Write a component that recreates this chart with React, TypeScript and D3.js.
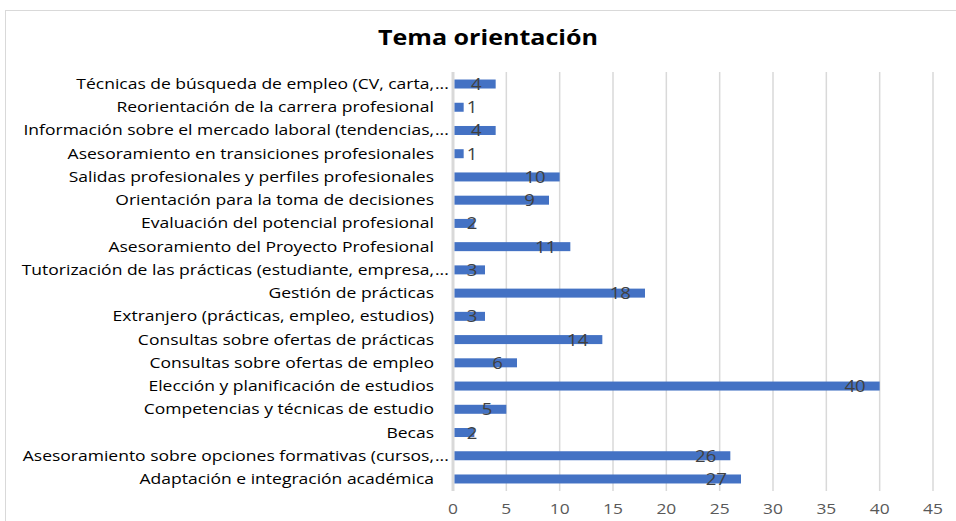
import React from "react";
import * as d3 from "d3";

const categories = [
  "Técnicas de búsqueda de empleo (CV, carta,…",
  "Reorientación de la carrera profesional",
  "Información sobre el mercado laboral (tendencias,…",
  "Asesoramiento en transiciones profesionales",
  "Salidas profesionales y perfiles profesionales",
  "Orientación para la toma de decisiones",
  "Evaluación del potencial profesional",
  "Asesoramiento del Proyecto Profesional",
  "Tutorización de las prácticas (estudiante, empresa,…",
  "Gestión de prácticas",
  "Extranjero (prácticas, empleo, estudios)",
  "Consultas sobre ofertas de prácticas",
  "Consultas sobre ofertas de empleo",
  "Elección y planificación de estudios",
  "Competencias y técnicas de estudio",
  "Becas",
  "Asesoramiento sobre opciones formativas (cursos,…",
  "Adaptación e integración académica",
];
const values = [4, 1, 4, 1, 10, 9, 2, 11, 3, 18, 3, 14, 6, 40, 5, 2, 26, 27];
const xTicks = [0, 5, 10, 15, 20, 25, 30, 35, 40, 45];
const title = "Tema orientación";

const W = 956;
const H = 521;
const FONT = "'Open Sans', sans-serif";
const SX = 1.2;

function T(props: any) {
  const { x, y, children, ...rest } = props;
  return (
    <text transform={`translate(${x},${y}) scale(${SX},1)`} fontFamily={FONT} {...rest}>
      {children}
    </text>
  );
}

export default function App() {
  const x = d3.scaleLinear().domain([0, 45]).range([453, 933]);
  const y = d3
    .scaleBand<string>()
    .domain(categories)
    .range([72.4, 490.6])
    .paddingInner(0.6)
    .paddingOuter(0.3);
  const bh = 9;
  const labelX = 434;

  return (
    <div style={{ position: "absolute", left: 0, top: 0 }}>
      <svg width={W} height={H} style={{ display: "block" }}>
        <rect x={0} y={0} width={W} height={H} fill="#ffffff" />
        <rect x={5.5} y={10.5} width={W + 20} height={H + 20} fill="#ffffff" stroke="#d9d9d9" strokeWidth={1} />
        <T x={488} y={45} textAnchor="middle" fontWeight={700} fontSize={20.9} fill="#000">
          {title}
        </T>
        {xTicks.map((t) => (
          <line
            key={"g" + t}
            x1={x(t)}
            x2={x(t)}
            y1={72}
            y2={491}
            stroke="#d9d9d9"
            strokeWidth={t === 0 ? 3 : 1.5}
          />
        ))}
        {xTicks.map((t) => (
          <T key={"t" + t} x={x(t)} y={514} textAnchor="middle" fontSize={14.5} fill="#595959">
            {t}
          </T>
        ))}
        {categories.map((c) => {
          const cy = (y(c) as number) + y.bandwidth() / 2;
          const ell = c.endsWith("…");
          const main = ell ? c.slice(0, -1) : c;
          return (
            <g key={c}>
              <T x={labelX} y={cy + 5} textAnchor="end" fontSize={14.6} fill="#000">
                {main}
              </T>
              {ell && (
                <T x={labelX + 1} y={cy + 5} textAnchor="start" fontSize={14.6} fill="#000">
                  ...
                </T>
              )}
            </g>
          );
        })}
        {categories.map((c, i) => {
          const cy = (y(c) as number) + y.bandwidth() / 2;
          const v = values[i];
          const x0 = x(0) + 1.5;
          const x1 = x(v);
          const digits = String(v).length;
          const tw = digits * 10.3;
          let endX = x1 - 14;
          if (endX - tw < x(0) + 14) endX = x(0) + 14 + tw;
          return (
            <g key={"b" + c}>
              <rect x={x0} y={cy - bh / 2} width={Math.max(0, x1 - x0)} height={bh} fill="#4472c4" />
              <T x={endX} y={cy + 6} textAnchor="end" fontSize={15.5} fill="#404040">
                {v}
              </T>
            </g>
          );
        })}
      </svg>
    </div>
  );
}
